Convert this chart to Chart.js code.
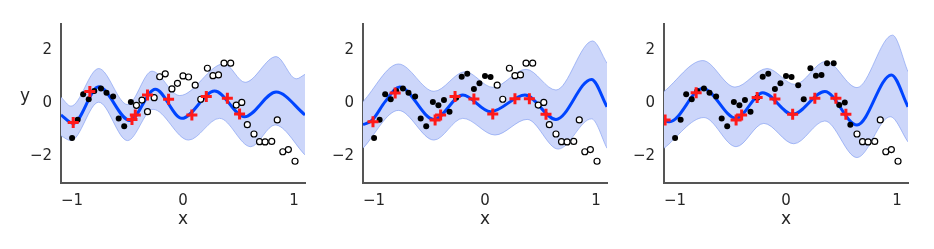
<!DOCTYPE html>
<html>
<head>
<meta charset="utf-8">
<script src="https://cdn.jsdelivr.net/npm/chart.js@4"></script>
<style>
  body { margin: 0; background: #fff; }
  #wrap { position: relative; width: 934px; height: 249px; }
  canvas { position: absolute; top: 0; }
</style>
</head>
<body>
<div id="wrap">
  <canvas id="c1" width="320" height="249" style="left:0px"></canvas>
  <canvas id="c2" width="320" height="249" style="left:302px"></canvas>
  <canvas id="c3" width="320" height="249" style="left:603px"></canvas>
</div>
<script>
// observations (same set in every panel)
var obsX = [-1.00, -0.95, -0.90, -0.85, -0.80, -0.74, -0.69, -0.63, -0.58, -0.53,
            -0.47, -0.42, -0.37, -0.32, -0.26, -0.21, -0.16, -0.10, -0.05, 0.00,
             0.05, 0.11, 0.16, 0.22, 0.27, 0.32, 0.37, 0.43, 0.48, 0.53,
             0.58, 0.64, 0.69, 0.74, 0.80, 0.85, 0.90, 0.95, 1.01];
var obsY = [-1.30, -0.61, 0.35, 0.16, 0.47, 0.57, 0.41, 0.26, -0.57, -0.86,
             0.06, -0.07, 0.13, -0.31, 0.22, 1.01, 1.12, 0.55, 0.76, 1.04,
             1.00, 0.69, 0.16, 1.33, 1.05, 1.08, 1.52, 1.52, -0.06, 0.04,
            -0.80, -1.15, -1.44, -1.45, -1.43, -0.62, -1.82, -1.74, -2.18];
// how many of the observations are already seen (filled) in each panel
var seenCount = [11, 21, 31];

// red crosses
var crossX1 = [-0.99, -0.84, -0.46, -0.43, -0.32, -0.13, 0.08, 0.21, 0.40, 0.51];
var crossY1 = [-0.72, 0.45, -0.60, -0.43, 0.32, 0.16, -0.43, 0.26, 0.20, -0.40];
var crossX2 = [-1.01, -0.81, -0.45, -0.40, -0.27, -0.10, 0.07, 0.27, 0.40, 0.55];
var crossY2 = [-0.69, 0.40, -0.62, -0.43, 0.26, 0.17, -0.40, 0.18, 0.18, -0.41];
var crossX3 = [-1.09, -0.81, -0.45, -0.40, -0.26, -0.10, 0.06, 0.26, 0.45, 0.54];
var crossY3 = [-0.62, 0.41, -0.62, -0.43, 0.23, 0.17, -0.41, 0.20, 0.20, -0.41];

// predictive mean
var meanX1 = [-1.1, -0.99, -0.76, -0.48, -0.25, -0.01, 0.285, 0.555, 0.84, 1.1];
var meanY1 = [-0.43, -0.75, 0.63, -0.64, 0.54, -0.56, 0.47, -0.50, 0.43, -0.43];
var meanX2 = [-1.1, -1.02, -0.90, -0.77, -0.46, -0.20, 0.05, 0.36, 0.64, 0.96, 1.1];
var meanY2 = [-0.80, -0.64, 0.07, 0.62, -0.60, 0.32, -0.31, 0.32, -0.60, 0.91, -0.12];
var meanX3 = [-1.1, -1.05, -0.75, -0.45, -0.21, 0.06, 0.35, 0.64, 0.95, 1.1];
var meanY3 = [-0.64, -0.69, 0.57, -0.56, 0.41, -0.41, 0.45, -0.81, 1.08, -0.12];

// confidence band, upper edge
var upX1 = [-1.1, -1.01, -0.76, -0.50, -0.28, -0.03, 0.37, 0.56, 0.84, 1.02, 1.1];
var upY1 = [0.24, -0.10, 1.32, -0.04, 1.22, 0.30, 1.50, 0.80, 1.77, 0.93, 1.10];
var upX2 = [-1.1, -0.78, -0.46, -0.18, 0.07, 0.37, 0.64, 0.97, 1.1];
var upY2 = [0.07, 1.49, 0.46, 1.20, 0.61, 1.29, 0.51, 2.36, 1.52];
var upX3 = [-1.1, -0.75, -0.46, -0.17, 0.08, 0.36, 0.64, 0.96, 1.1];
var upY3 = [0.45, 1.62, 0.62, 1.32, 0.72, 1.59, 0.60, 2.58, 1.20];

// confidence band, lower edge
var loX1 = [-1.1, -1.01, -0.76, -0.50, -0.27, 0.05, 0.33, 0.61, 0.83, 1.1];
var loY1 = [-1.22, -1.40, 0.05, -1.40, -0.22, -1.38, -0.56, -1.63, -0.81, -1.94];
var loX2 = [-1.1, -0.78, -0.46, -0.20, 0.09, 0.38, 0.66, 0.96, 1.1];
var loY2 = [-1.69, -0.26, -1.38, -0.56, -1.19, -0.60, -1.72, -0.58, -1.69];
var loX3 = [-1.1, -0.74, -0.45, -0.20, 0.07, 0.35, 0.64, 0.94, 1.1];
var loY3 = [-1.69, -0.53, -1.63, -0.75, -1.52, -0.66, -2.04, -0.50, -1.45];

var xTicks = [-1, 0, 1];
var yTicks = [-2, 0, 2];

function pts(xs, ys) {
	var out = [];
	for (var i = 0; i < xs.length; i++) out.push({x: xs[i], y: ys[i]});
	return out;
}

function minus(v) {
	return v < 0 ? '\u2212' + Math.abs(v) : String(v);
}

var yLabel = {
	id: 'yLabel',
	afterDraw: function(chart, args, opts) {
		if (!opts.show) return;
		var ctx = chart.ctx;
		ctx.save();
		ctx.font = '17px "DejaVu Sans"';
		ctx.fillStyle = '#262626';
		ctx.textAlign = 'center';
		ctx.textBaseline = 'middle';
		ctx.fillText('y', 25, 97);
		ctx.restore();
	}
};

function makePanel(id, n, cx, cy, mx, my, ux, uy, lx, ly, showY) {
	var seen = pts(obsX.slice(0, n), obsY.slice(0, n));
	var unseen = pts(obsX.slice(n), obsY.slice(n));
	new Chart(document.getElementById(id), {
		type: 'line',
		data: {
			datasets: [
				{ data: pts(cx, cy), showLine: false, pointStyle: 'cross', pointRadius: 5.5,
				  borderColor: '#ff1a1a', pointBorderWidth: 3, pointHoverRadius: 5.5 },
				{ data: seen, showLine: false, pointRadius: 3, pointBackgroundColor: '#000',
				  pointBorderColor: '#000', pointBorderWidth: 0 },
				{ data: unseen, showLine: false, pointRadius: 3, pointBackgroundColor: '#fff',
				  pointBorderColor: '#000', pointBorderWidth: 1.2 },
				{ data: pts(mx, my), borderColor: 'rgb(0,68,255)', borderWidth: 3, pointRadius: 0,
				  cubicInterpolationMode: 'monotone', fill: false },
				{ data: pts(ux, uy), borderColor: 'rgba(120,150,240,0.6)', borderWidth: 1, pointRadius: 0,
				  cubicInterpolationMode: 'monotone', fill: '+1', backgroundColor: 'rgb(204,214,250)' },
				{ data: pts(lx, ly), borderColor: 'rgba(120,150,240,0.6)', borderWidth: 1, pointRadius: 0,
				  cubicInterpolationMode: 'monotone', fill: false }
			]
		},
		options: {
			responsive: false,
			animation: false,
			devicePixelRatio: 1,
			layout: { padding: { top: 24, right: 15, left: 0, bottom: 0 } },
			plugins: {
				legend: { display: false },
				tooltip: { enabled: false },
				filler: { drawTime: 'beforeDatasetsDraw' },
				yLabel: { show: showY }
			},
			scales: {
				x: {
					type: 'linear', min: -1.1, max: 1.1,
					afterBuildTicks: function(s) { s.ticks = xTicks.map(function(v) { return {value: v}; }); },
					afterFit: function(s) { s.height = 66; },
					grid: { display: false, drawTicks: false },
					border: { display: true, color: '#555', width: 2 },
					ticks: { padding: 9, color: '#262626', font: { family: 'DejaVu Sans', size: 15 },
						maxRotation: 0, callback: minus },
					title: { display: true, text: 'x', color: '#262626',
						font: { family: 'DejaVu Sans', size: 17 }, padding: { top: 0, bottom: 19 } }
				},
				y: {
					type: 'linear', min: -3, max: 3,
					afterBuildTicks: function(s) { s.ticks = yTicks.map(function(v) { return {value: v}; }); },
					afterFit: function(s) { s.width = 61; },
					grid: { display: false, drawTicks: false },
					border: { display: true, color: '#555', width: 2 },
					ticks: { padding: 9, color: '#262626', font: { family: 'DejaVu Sans', size: 15 },
						callback: minus }
				}
			}
		},
		plugins: [yLabel]
	});
}

makePanel('c1', seenCount[0], crossX1, crossY1, meanX1, meanY1, upX1, upY1, loX1, loY1, true);
makePanel('c2', seenCount[1], crossX2, crossY2, meanX2, meanY2, upX2, upY2, loX2, loY2, false);
makePanel('c3', seenCount[2], crossX3, crossY3, meanX3, meanY3, upX3, upY3, loX3, loY3, false);
</script>
</body>
</html>
